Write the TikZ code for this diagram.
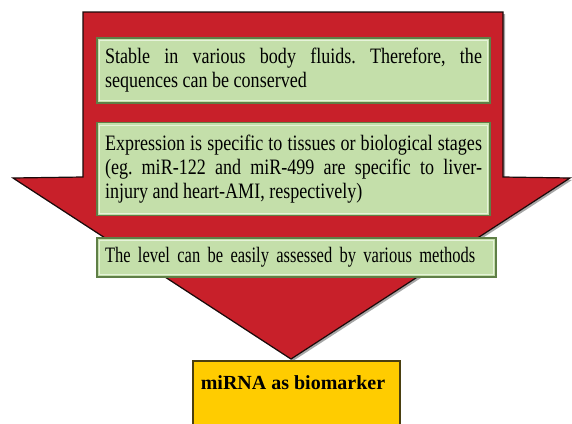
\documentclass[tikz,border=0pt]{standalone}
\usepackage{fontspec}
\setmainfont{Liberation Serif}
\newfontfamily\condfont[FakeStretch=0.82]{Liberation Serif}
\newfontfamily\condfontb[FakeStretch=0.75]{Liberation Serif}
\definecolor{arrowred}{HTML}{C8202A}
\definecolor{arrowedge}{HTML}{1A0A0A}
\definecolor{boxgreen}{HTML}{C4DFAA}
\definecolor{boxgreenedge}{HTML}{5F7F47}
\definecolor{boxgreenlight}{HTML}{E6F3DA}
\definecolor{bioyellow}{HTML}{FFCC00}
\definecolor{bioedge}{HTML}{4A3F10}
\tikzset{
  greenbox/.style={draw=boxgreenedge, line width=1.2pt, fill=boxgreen,
    inner sep=0pt, font=\condfont\fontsize{22}{24}\selectfont\frenchspacing,
    path picture={\draw[boxgreenlight, line width=1pt]
      ([shift={(2.5pt,-2.5pt)}]path picture bounding box.north west) rectangle
      ([shift={(-2.5pt,2.5pt)}]path picture bounding box.south east);}},
  biobox/.style={draw=bioedge, line width=1.2pt, fill=bioyellow,
    minimum width=207pt, minimum height=64pt, inner sep=0pt},
  biotext/.style={font=\bfseries\fontsize{20}{22}\selectfont, inner sep=0pt}
}
\begin{document}
\begin{tikzpicture}[x=1pt,y=-1pt]
\useasboundingbox (0,0) rectangle (572,423);
% arrow
\fill[black!35] (85,14) -- (505,14) -- (505,179) -- (572,180) -- (293,361) -- (15,180) -- (85,179) -- cycle;
\filldraw[fill=arrowred, draw=arrowedge, line width=1.2pt, line join=miter]
  (83,12) -- (503,12) -- (503,177) -- (570,178) -- (291,359) -- (13,178) -- (83,177) -- cycle;
% green boxes
\node[greenbox, minimum width=393pt, minimum height=65pt, text width=377pt, align=justify]
  (b1) at (293.5,70.5) {Stable in various body fluids. Therefore, the\linebreak sequences can be conserved};
\node[greenbox, minimum width=393pt, minimum height=93pt, text width=377pt, align=justify]
  (b2) at (293.5,169) {Expression is specific to tissues or biological stages\linebreak (eg. miR-122 and miR-499 are specific to liver-\linebreak injury and heart-AMI, respectively)};
\node[greenbox, font=\condfontb\fontsize{22}{24}\selectfont, minimum width=399pt, minimum height=39pt, text width=383pt, align=left]
  (b3) at (296.5,257.5) {The level can be easily assessed by various methods};
% yellow box
\node[biobox] (bio) at (296.5,393) {};
\node[biotext] (biolabel) at (293,383) {miRNA as biomarker};
\end{tikzpicture}
\end{document}
